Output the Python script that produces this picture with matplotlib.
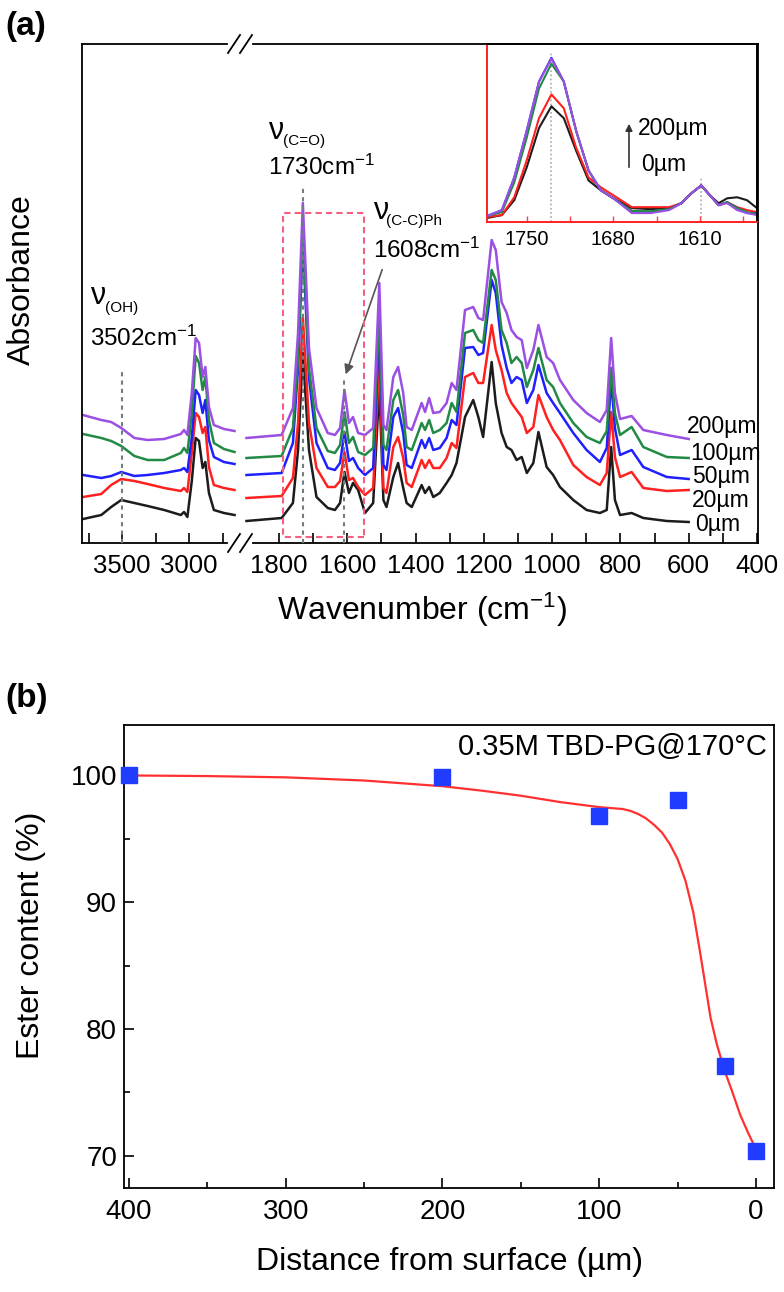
import matplotlib
matplotlib.use("Agg")
import matplotlib.pyplot as plt
from matplotlib.lines import Line2D
from matplotlib.patches import Rectangle

plt.rcParams['font.family'] = ['Liberation Sans', 'DejaVu Sans']
plt.rcParams['mathtext.fontset'] = 'custom'
plt.rcParams['mathtext.rm'] = 'Liberation Sans'
plt.rcParams['mathtext.it'] = 'Liberation Sans:italic'
plt.rcParams['mathtext.bf'] = 'Liberation Sans:bold'

W, H = 784, 1292

# ---- panel (a) data: spectra (arbitrary absorbance units)
depths = ['0µm', '20µm', '50µm', '100µm', '200µm']
colors = ['#1c1c1c', '#ff2020', '#2020ff', '#228a45', '#9b4fe3']

# left part of the broken axis (O-H / C-H region)
wn_left = [3792, 3656, 3582, 3507, 3409, 3310, 3186, 3062, 3038, 3013,
           2980, 2951, 2926, 2899, 2879, 2852, 2815, 2740, 2661]
left_0 = [24, 28, 36, 43, 40, 37, 33, 28, 31, 26, 62, 105, 102, 75, 81, 50, 33, 30, 28]
left_20 = [46, 49, 58, 64, 62, 59, 55, 52, 55, 51, 90, 130, 126, 110, 116, 76, 58, 55, 53]
left_50 = [68, 65, 67, 71, 67, 68, 70, 73, 75, 71, 106, 153, 148, 130, 143, 103, 86, 81, 79]
left_100 = [109, 105, 102, 97, 87, 83, 83, 90, 95, 90, 130, 187, 180, 153, 166, 123, 100, 94, 91]
left_200 = [128, 123, 121, 115, 105, 103, 104, 109, 113, 108, 150, 205, 200, 166, 176, 136, 118, 114, 112]

# right part of the broken axis (fingerprint region)
wn_right = [1895, 1792, 1759, 1744, 1730, 1712, 1690, 1657, 1636, 1621,
            1608, 1595, 1583, 1568, 1548, 1524, 1506, 1494, 1485, 1465,
            1451, 1436, 1426, 1411, 1382, 1372, 1360, 1348, 1329, 1309,
            1294, 1280, 1255, 1231, 1216, 1202, 1177, 1165, 1148, 1133,
            1119, 1104, 1089, 1074, 1055, 1040, 1016, 997, 977, 938,
            899, 860, 840, 827, 816, 801, 767, 733, 664, 600]
right_0 = [22, 25, 40, 93, 190, 93, 46, 35, 33, 40,
           71, 50, 60, 53, 30, 40, 156, 43, 36, 66,
           80, 55, 40, 36, 58, 50, 56, 46, 50, 60,
           68, 80, 126, 143, 126, 106, 181, 140, 110, 96,
           93, 83, 86, 70, 80, 111, 76, 68, 56, 43,
           33, 30, 33, 96, 43, 28, 30, 25, 22, 21]
right_20 = [45, 47, 65, 120, 226, 120, 75, 56, 56, 62,
            91, 63, 65, 56, 48, 55, 183, 55, 50, 96,
            106, 85, 60, 56, 83, 75, 83, 75, 75, 85,
            100, 95, 166, 170, 160, 160, 218, 193, 173, 150,
            140, 133, 126, 110, 116, 148, 126, 113, 103, 78,
            66, 58, 70, 131, 86, 66, 71, 55, 52, 53]
right_50 = [68, 70, 100, 175, 303, 165, 100, 75, 73, 80,
            111, 82, 85, 75, 68, 75, 218, 78, 73, 126,
            135, 110, 78, 75, 103, 95, 105, 93, 95, 105,
            123, 118, 195, 196, 188, 190, 263, 250, 198, 175,
            160, 166, 163, 140, 153, 178, 150, 140, 130, 110,
            93, 81, 95, 163, 115, 88, 93, 76, 66, 64]
right_100 = [85, 87, 115, 185, 313, 175, 115, 92, 90, 98,
             131, 100, 106, 91, 88, 95, 228, 98, 93, 143,
             153, 128, 96, 93, 120, 113, 123, 110, 113, 120,
             140, 131, 210, 213, 203, 200, 273, 263, 213, 200,
             180, 186, 180, 156, 173, 195, 163, 156, 140, 120,
             106, 100, 112, 175, 130, 108, 116, 96, 86, 85]
right_200 = [105, 108, 135, 210, 340, 195, 135, 110, 108, 115,
             153, 120, 126, 110, 108, 115, 260, 118, 113, 166,
             176, 150, 116, 113, 140, 131, 145, 130, 131, 140,
             160, 153, 233, 236, 225, 223, 303, 293, 241, 230,
             213, 206, 203, 175, 193, 218, 186, 180, 163, 143,
             130, 121, 133, 205, 150, 124, 127, 113, 108, 104]

# inset: zoom on the C=O and ring bands
wn_inset = [1782, 1770, 1760, 1750, 1740, 1730, 1720, 1710, 1700, 1690, 1680, 1665,
            1650, 1635, 1625, 1617, 1609, 1602, 1595, 1588, 1580, 1572, 1564]
inset_0 = [2, 5, 20, 53, 93, 115, 103, 70, 40, 30, 22, 12, 11, 12, 17, 27, 35, 25, 17, 22, 23, 20, 12]
inset_20 = [3, 5, 23, 60, 103, 127, 113, 73, 43, 33, 25, 13, 13, 13, 17, 27, 35, 25, 15, 18, 13, 10, 8]
inset_50 = [4, 10, 43, 90, 140, 164, 140, 90, 50, 30, 22, 9, 8, 11, 17, 27, 35, 25, 15, 18, 12, 7, 7]
inset_100 = [4, 8, 38, 83, 133, 158, 140, 90, 50, 30, 22, 9, 9, 11, 17, 27, 35, 25, 15, 18, 12, 8, 6]
inset_200 = [4, 10, 43, 90, 140, 163, 140, 90, 50, 30, 22, 7, 7, 10, 17, 27, 35, 25, 15, 17, 10, 7, 5]

# ---- panel (b) data
distance = [400, 200, 100, 50, 20, 0]
ester = [100.0, 99.85, 96.8, 98.05, 77.1, 70.35]
fit_x = [400, 350, 300, 250, 200, 175, 150, 125, 100, 85, 80, 75, 70, 65, 60, 55, 50,
         45, 40, 36, 33, 29, 25, 20, 15, 10, 5, 0]
fit_y = [100.0, 99.95, 99.85, 99.6, 99.15, 98.8, 98.4, 97.9, 97.5, 97.35, 97.2, 96.95,
         96.6, 96.1, 95.5, 94.6, 93.4, 91.7, 89.2, 86.3, 84.0, 80.9, 78.8, 76.7, 75.0,
         73.2, 71.8, 70.5]


def rect(l, t, r, b):
    # pixel box (left, top, right, bottom) -> figure fraction rect
    return [l / W, 1 - b / H, (r - l) / W, (b - t) / H]


def fxy(x, y):
    return x / W, 1 - y / H


def ptext(x, y, s, **kw):
    fx, fy = fxy(x, y)
    fig.text(fx, fy, s, **kw)


fig = plt.figure(figsize=(W / 100, H / 100), dpi=100)

lefts = [left_0, left_20, left_50, left_100, left_200]
rights = [right_0, right_20, right_50, right_100, right_200]
insets = [inset_0, inset_20, inset_50, inset_100, inset_200]

# ---------------- panel (a): broken x axis
ax_l = fig.add_axes(rect(82, 44, 240, 543))
ax_r = fig.add_axes(rect(240, 44, 758, 543))

for ys, c in zip(lefts, colors):
    ax_l.plot(wn_left, ys, color=c, lw=1.8)
for ys, c in zip(rights, colors):
    ax_r.plot(wn_right, ys, color=c, lw=1.8)

ax_l.set_xlim(3800, 2620)
ax_r.set_xlim(1914, 397)
for ax in (ax_l, ax_r):
    ax.set_ylim(0, 499)
    ax.set_yticks([])
    for sp in ax.spines.values():
        sp.set_linewidth(1.3)
    ax.tick_params(axis='x', which='both', direction='in', length=7, width=1.2,
                   labelsize=18.5, pad=8)
ax_l.spines['right'].set_visible(False)
ax_r.spines['left'].set_visible(False)
ax_l.spines['top'].set_bounds(2717, 3800)
ax_l.spines['bottom'].set_bounds(2717, 3800)
ax_r.spines['top'].set_bounds(397, 1876)
ax_r.spines['bottom'].set_bounds(397, 1876)

ax_l.set_xticks([3500, 3000])
ax_l.set_xticks([3750, 3250, 2750], minor=True)
ax_r.set_xticks(list(range(1800, 399, -200)))
ax_r.set_xticks(list(range(1700, 499, -200)), minor=True)

# break marks
for yb in (44, 543):
    for xc in (234, 246):
        x0, y0 = fxy(xc - 6, yb + 9)
        x1, y1 = fxy(xc + 6, yb - 9)
        fig.add_artist(Line2D([x0, x1], [y0, y1], color='black', lw=1.3))

# dotted marker lines
ax_l.plot([3502, 3502], [0, 171], color='#6f7f80', ls=(0, (2, 2)), lw=1.5, zorder=5)
ax_r.plot([1730, 1730], [0, 355], color='#6f7f80', ls=(0, (2, 2)), lw=1.5, zorder=5)
ax_r.plot([1608, 1608], [0, 163], color='#6f7f80', ls=(0, (2, 2)), lw=1.5, zorder=5)

# zoom box
ax_r.add_patch(Rectangle((1551, 6), 237, 324, fill=False, ec='#f4607f', lw=1.5,
                         ls=(0, (3, 2)), zorder=4))

ax_r.annotate('', xy=(1607, 166), xytext=(1495, 276),
              arrowprops=dict(arrowstyle='-|>', color='#555555', lw=1.2,
                              mutation_scale=14))

# depth labels
label_pos = [(695, 525), (692, 501), (692, 477), (690, 453), (687, 427)]
for (x, y), s in zip(label_pos, depths):
    ptext(x, y, s, fontsize=16.5, ha='left', va='center')

# band labels
ptext(90, 296, 'ν', fontsize=22, ha='left', va='center')
ptext(105, 308, '(OH)', fontsize=11, ha='left', va='center')
ptext(90, 338, '3502cm$^{-1}$', fontsize=17.5, ha='left', va='center')
ptext(268, 131, 'ν', fontsize=22, ha='left', va='center')
ptext(283, 141, '(C=O)', fontsize=11, ha='left', va='center')
ptext(268, 167, '1730cm$^{-1}$', fontsize=17.5, ha='left', va='center')
ptext(373, 211, 'ν', fontsize=22, ha='left', va='center')
ptext(386, 221, '(C-C)Ph', fontsize=11, ha='left', va='center')
ptext(373, 250, '1608cm$^{-1}$', fontsize=17.5, ha='left', va='center')

ptext(5, 27, '(a)', fontsize=24, fontweight='bold', ha='left', va='center')
ptext(22, 280, 'Absorbance', fontsize=23, rotation=90, ha='center', va='center')
ptext(422, 610, 'Wavenumber (cm$^{-1}$)', fontsize=23, ha='center', va='center')

# ---------------- inset
ax_in = fig.add_axes(rect(487, 44, 757, 222))
ax_in.set_facecolor('white')
for ys, c in zip(insets, colors):
    ax_in.plot(wn_inset, ys, color=c, lw=1.5)
ax_in.set_xlim(1782, 1564)
ax_in.set_ylim(-2, 178)
ax_in.set_yticks([])
ax_in.set_xticks([1750, 1680, 1610])
ax_in.set_xticks([1715, 1645, 1575], minor=True)
ax_in.tick_params(axis='x', which='both', direction='in', length=4, width=1,
                  color='#ff4040', labelsize=14.5, pad=6)
ax_in.spines['left'].set_color('#ff2020')
ax_in.spines['bottom'].set_color('#ff2020')
for sp in ax_in.spines.values():
    sp.set_linewidth(1.4)
ax_in.plot([1730, 1730], [-2, 170], color='#aaaaaa', ls=(0, (1, 1.5)), lw=1.2, zorder=0)
ax_in.plot([1609, 1609], [-2, 44], color='#aaaaaa', ls=(0, (1, 1.5)), lw=1.2, zorder=0)

ax_in.annotate('', xy=fxy(629, 121), xytext=fxy(629, 170), xycoords='figure fraction',
               textcoords='figure fraction',
               arrowprops=dict(arrowstyle='-|>', color='#333333', lw=1.2, mutation_scale=10))
ptext(638, 128, '200µm', fontsize=16.5, ha='left', va='center')
ptext(641, 165, '0µm', fontsize=16.5, ha='left', va='center')

# ---------------- panel (b)
ax_b = fig.add_axes(rect(124, 725, 774, 1188))
ax_b.plot(fit_x, fit_y, color='#ff3030', lw=1.6)
ax_b.plot(distance, ester, 's', color='#1f3cff', ms=11, clip_on=False, zorder=5)
ax_b.set_xlim(403.2, -11.5)
ax_b.set_ylim(67.45, 103.98)
ax_b.set_xticks([400, 300, 200, 100, 0])
ax_b.set_xticks([350, 250, 150, 50], minor=True)
ax_b.set_yticks([100, 90, 80, 70])
ax_b.set_yticks([95, 85, 75], minor=True)
ax_b.tick_params(which='both', direction='in', width=1.2, labelsize=20)
ax_b.tick_params(which='major', length=7)
ax_b.tick_params(which='minor', length=4)
ax_b.tick_params(axis='x', pad=8)
ax_b.tick_params(axis='y', pad=5)
for sp in ax_b.spines.values():
    sp.set_linewidth(1.3)

ptext(767, 747, '0.35M TBD-PG@170\u00b0C', fontsize=21, ha='right', va='center')
ptext(5, 699, '(b)', fontsize=24, fontweight='bold', ha='left', va='center')
ptext(31, 935, 'Ester content (%)', fontsize=23, rotation=90, ha='center', va='center')
ptext(449, 1262, 'Distance from surface (µm)', fontsize=23, ha='center', va='center')

fig.savefig('out.png', dpi=100)
